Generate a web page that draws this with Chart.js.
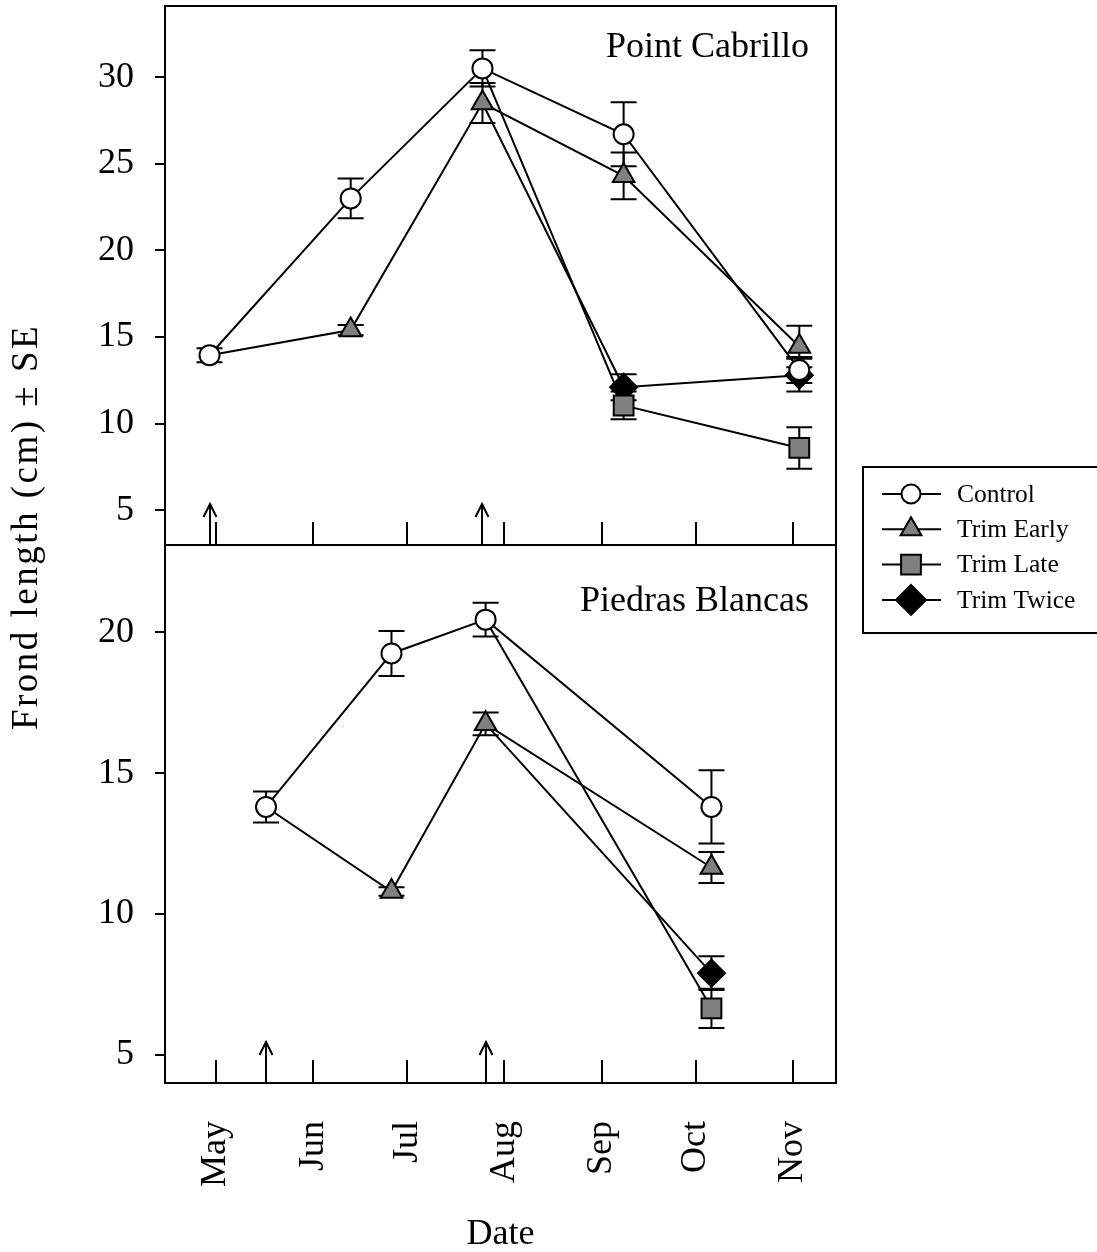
<!DOCTYPE html>
<html>
<head>
<meta charset="utf-8">
<title>Frond length</title>
<script src="https://cdn.jsdelivr.net/npm/chart.js@4.4.1/dist/chart.umd.min.js"></script>
<style>
  html, body { margin: 0; padding: 0; background: #fff; }
  #wrap { position: relative; width: 1097px; height: 1252px; }
  #wrap canvas { position: absolute; left: 0; top: 0; }
</style>
</head>
<body>
<div id="wrap">
  <canvas id="pbChart" width="1097" height="1252"></canvas>
  <canvas id="pcChart" width="1097" height="1252"></canvas>
</div>
<script>
// x values are days after 1 May
const monthDays = [0, 31, 61, 92, 123, 153, 184];
const monthLabels = ["May", "Jun", "Jul", "Aug", "Sep", "Oct", "Nov"];
const seriesNames = ["Control", "Trim Early", "Trim Late", "Trim Twice"];

// Point Cabrillo
const pcDays = [-2, 43, 85, 130, 186];
const pcControl = [13.95, 23.0, 30.5, 26.7, 13.1];
const pcControlSE = [0.4, 1.15, 1.05, 1.85, 0.75];
const pcEarly = [13.95, 15.4, 28.5, 24.3, 14.45];
const pcEarlySE = [null, 0.3, 1.15, 1.35, 1.2];
const pcLate = [null, null, 30.5, 11.05, 8.6];
const pcLateSE = [null, null, null, 0.8, 1.2];
const pcTwice = [null, null, 28.5, 12.1, 12.8];
const pcTwiceSE = [null, null, null, 0.75, 0.95];
const pcTrimDays = [-2, 85];
const pcTicks = [5, 10, 15, 20, 25, 30];

// Piedras Blancas
const pbDays = [16, 56, 86, 158];
const pbControl = [13.8, 19.25, 20.45, 13.8];
const pbControlSE = [0.55, 0.8, 0.6, 1.3];
const pbEarly = [13.8, 10.8, 16.75, 11.65];
const pbEarlySE = [null, 0.15, 0.4, 0.55];
const pbLate = [null, null, 20.45, 6.65];
const pbLateSE = [null, null, null, 0.7];
const pbTwice = [null, null, 16.75, 7.9];
const pbTwiceSE = [null, null, null, 0.6];
const pbTrimDays = [16, 86];
const pbTicks = [5, 10, 15, 20];

const SERIF = '"Liberation Serif", "Times New Roman", serif';
const X_MIN = -16.2;
const X_MAX = 197.7;

const markers = [
  { pointStyle: "circle", radius: 10, fill: "#ffffff", legendRadius: 9.5 },
  { pointStyle: "triangle", radius: 12.5, fill: "#808080", legendRadius: 12 },
  { pointStyle: "rect", radius: 14, fill: "#808080", legendRadius: 14 },
  { pointStyle: "rectRot", radius: 13.5, fill: "#000000", legendRadius: 15 },
];

function buildDatasets(days, values, errors) {
  return values.map((vals, i) => {
    const m = markers[i];
    return {
      label: seriesNames[i],
      data: vals.map((v, j) => ({ x: days[j], y: v })),
      errors: errors[i],
      borderColor: "#000",
      borderWidth: 2,
      backgroundColor: m.fill,
      pointStyle: m.pointStyle,
      pointBackgroundColor: m.fill,
      pointBorderColor: "#000",
      pointBorderWidth: 2,
      pointRadius: errors[i].map((e) => (e == null ? 0 : m.radius)),
      pointHoverRadius: errors[i].map((e) => (e == null ? 0 : m.radius)),
      tension: 0,
      fill: false,
    };
  });
}

const errorBars = {
  id: "errorBars",
  beforeDatasetsDraw(chart) {
    const ctx = chart.ctx;
    const y = chart.scales.y;
    ctx.save();
    ctx.strokeStyle = "#000";
    ctx.lineWidth = 2;
    chart.data.datasets.forEach((ds, i) => {
      const meta = chart.getDatasetMeta(i);
      ds.errors.forEach((e, j) => {
        if (e == null) return;
        const px = meta.data[j].x;
        const v = ds.data[j].y;
        const top = y.getPixelForValue(v + e);
        const bot = y.getPixelForValue(v - e);
        ctx.beginPath();
        ctx.moveTo(px, top);
        ctx.lineTo(px, bot);
        ctx.moveTo(px - 13, top);
        ctx.lineTo(px + 13, top);
        ctx.moveTo(px - 13, bot);
        ctx.lineTo(px + 13, bot);
        ctx.stroke();
      });
    });
    ctx.restore();
  },
};

const panelDecor = {
  id: "panelDecor",
  afterDraw(chart, args, opts) {
    const { ctx, chartArea: a } = chart;
    const x = chart.scales.x;
    ctx.save();
    ctx.strokeStyle = "#000";
    ctx.lineWidth = 2;

    // month ticks, pointing into the panel
    ctx.beginPath();
    monthDays.forEach((d) => {
      const px = Math.round(x.getPixelForValue(d));
      ctx.moveTo(px, a.bottom);
      ctx.lineTo(px, a.bottom - 23);
    });
    ctx.stroke();

    // trimming dates
    opts.trimDays.forEach((d) => {
      const px = Math.round(x.getPixelForValue(d));
      ctx.beginPath();
      ctx.moveTo(px, a.bottom);
      ctx.lineTo(px, a.bottom - 41);
      ctx.moveTo(px - 6.5, a.bottom - 28);
      ctx.lineTo(px, a.bottom - 41);
      ctx.lineTo(px + 6.5, a.bottom - 28);
      ctx.stroke();
    });

    ctx.strokeRect(a.left, a.top, a.right - a.left, a.bottom - a.top);

    ctx.fillStyle = "#000";
    ctx.font = "36px " + SERIF;
    ctx.textAlign = "right";
    ctx.textBaseline = "alphabetic";
    ctx.fillText(opts.site, a.right - 27, a.top + opts.siteOffset);

    if (opts.yTitle) {
      ctx.save();
      ctx.translate(27, 527);
      ctx.rotate(-Math.PI / 2);
      ctx.font = "37px " + SERIF;
      ctx.letterSpacing = "2.5px";
      ctx.textAlign = "center";
      ctx.textBaseline = "middle";
      ctx.fillText(opts.yTitle, 0, 0);
      ctx.restore();
    }

    if (opts.legend) {
      ctx.strokeRect(863, 467, 260, 166);
      ctx.font = "25.5px " + SERIF;
      ctx.textAlign = "left";
      ctx.textBaseline = "middle";
      chart.data.datasets.forEach((ds, i) => {
        const ly = 494 + i * 35.3;
        ctx.beginPath();
        ctx.moveTo(882, ly);
        ctx.lineTo(941, ly);
        ctx.stroke();
        ctx.fillStyle = markers[i].fill;
        Chart.helpers.drawPoint(
          ctx,
          { pointStyle: markers[i].pointStyle, radius: markers[i].legendRadius, borderWidth: 2, rotation: 0 },
          911,
          ly
        );
        ctx.fillStyle = "#000";
        ctx.fillText(ds.label, 957, ly + 1);
      });
    }
    ctx.restore();
  },
};

function makePanel(canvasId, cfg) {
  const tickFont = { family: SERIF, size: 36 };
  return new Chart(document.getElementById(canvasId), {
    type: "line",
    data: { datasets: buildDatasets(cfg.days, cfg.values, cfg.errors) },
    plugins: [errorBars, panelDecor],
    options: {
      responsive: false,
      animation: false,
      devicePixelRatio: 1,
      layout: { padding: cfg.padding, autoPadding: false },
      plugins: {
        legend: { display: false },
        tooltip: { enabled: false },
        panelDecor: {
          trimDays: cfg.trimDays,
          site: cfg.site,
          siteOffset: cfg.siteOffset,
          yTitle: cfg.yTitle,
          legend: cfg.legend,
        },
      },
      scales: {
        x: {
          type: "linear",
          min: X_MIN,
          max: X_MAX,
          display: cfg.showDates,
          afterBuildTicks: (s) => {
            s.ticks = monthDays.map((v) => ({ value: v }));
          },
          afterFit: (s) => {
            s.height = cfg.showDates ? 168 : 0;
            s.paddingLeft = 0;
            s.paddingRight = 0;
            s.paddingTop = 0;
            s.paddingBottom = 0;
          },
          grid: { display: false, drawTicks: false },
          border: { display: false },
          ticks: {
            display: cfg.showDates,
            autoSkip: false,
            minRotation: 90,
            maxRotation: 90,
            padding: 38,
            color: "#000",
            font: tickFont,
            callback: (v, i) => monthLabels[i],
          },
          title: {
            display: cfg.showDates,
            text: "Date",
            color: "#000",
            font: { family: SERIF, size: 36, lineHeight: 0.9 },
            padding: 0,
          },
        },
        y: {
          type: "linear",
          min: cfg.yMin,
          max: cfg.yMax,
          afterBuildTicks: (s) => {
            s.ticks = cfg.yTicks.map((v) => ({ value: v }));
          },
          afterFit: (s) => {
            s.width = 165;
            s.paddingTop = 0;
            s.paddingBottom = 0;
          },
          grid: {
            drawOnChartArea: false,
            drawTicks: true,
            tickLength: 10,
            tickWidth: 2,
            tickColor: "#000",
            color: "#000",
            lineWidth: 2,
          },
          border: { display: false },
          ticks: { padding: 21, color: "#000", font: tickFont },
        },
      },
    },
  });
}

makePanel("pbChart", {
  days: pbDays,
  values: [pbControl, pbEarly, pbLate, pbTwice],
  errors: [pbControlSE, pbEarlySE, pbLateSE, pbTwiceSE],
  trimDays: pbTrimDays,
  yTicks: pbTicks,
  yMin: 4.0,
  yMax: 23.1,
  site: "Piedras Blancas",
  siteOffset: 66,
  showDates: true,
  legend: true,
  padding: { left: 0, top: 545, right: 261, bottom: 1 },
});

makePanel("pcChart", {
  days: pcDays,
  values: [pcControl, pcEarly, pcLate, pcTwice],
  errors: [pcControlSE, pcEarlySE, pcLateSE, pcTwiceSE],
  trimDays: pcTrimDays,
  yTicks: pcTicks,
  yMin: 3.0,
  yMax: 34.1,
  site: "Point Cabrillo",
  siteOffset: 51,
  showDates: false,
  yTitle: "Frond length (cm) \u00b1 SE",
  padding: { left: 0, top: 6, right: 261, bottom: 707 },
});
</script>
</body>
</html>
